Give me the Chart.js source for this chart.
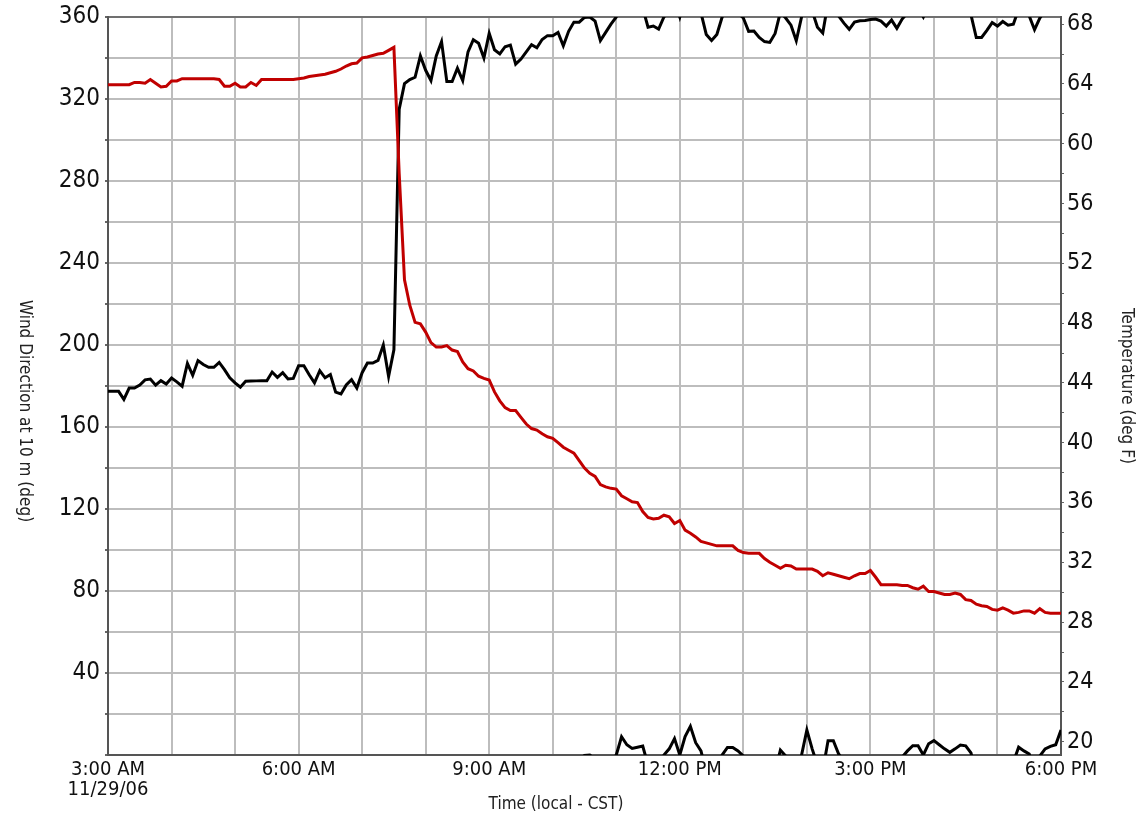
<!DOCTYPE html>
<html>
<head>
<meta charset="utf-8">
<title>Wind Direction and Temperature</title>
<script src="https://cdn.jsdelivr.net/npm/chart.js"></script>
<style>
  html, body { margin: 0; padding: 0; background: #fff; }
  #wrap { width: 1143px; height: 820px; }
</style>
</head>
<body>
<div id="wrap"><canvas id="chart" width="1143" height="820"></canvas></div>
<script>
// 5-minute observations, 3:00 AM to 6:00 PM CST, 11/29/06
const startHour = 3;
const stepMinutes = 5;

// wind direction at 10 m (deg), unwrapped past north (values > 360 wrap to the bottom)
const windDir = [
  177.4, 177.4, 177.4, 173.5, 179,
  179, 180.5, 183, 183.4, 180.4,
  182.6, 181, 183.9, 182, 179.9,
  191, 185.2, 192.4, 190.5, 189.1,
  189.1, 191.5, 188, 184, 181.5,
  179.4, 182.3, 182.4, 182.5, 182.6,
  182.6, 186.8, 184.2, 186.5, 183.4,
  183.7, 189.9, 189.9, 185.5, 181.5,
  187.5, 184, 185.6, 177, 176.1,
  180.5, 183.1, 179, 186.5, 191.2,
  191.2, 192.5, 200, 184.7, 197.7,
  315, 327.5, 329.5, 330.6, 341,
  334, 329, 341, 348, 328.5,
  328.5, 335, 329, 343, 348.9,
  347.2, 340, 352, 344, 342,
  345.5, 346.3, 337, 339.5, 343,
  346.5, 345, 349, 350.9, 350.9,
  352.5, 346, 353, 357.5, 357.5,
  359.8, 360, 358, 348.5, 352.5,
  356.5, 360, 368.9, 365, 363.2,
  363.8, 364.4, 355, 355.6, 354.1,
  360, 363, 368, 360, 369,
  374, 366, 362, 351.5, 348.5,
  351.5, 360, 363.7, 363.7, 362,
  359.5, 353, 353.2, 350, 348,
  347.6, 352, 362.4, 359.5, 356,
  348.4, 360, 372.2, 363, 355,
  352.2, 367, 367, 360.5, 357,
  354, 357.5, 358.2, 358.3, 358.8,
  359, 358, 355.6, 358.5, 354.5,
  359, 362, 364.5, 364.5, 360,
  365.5, 367, 365, 363, 361.3,
  363, 364.9, 364.5, 361, 350,
  350, 353.5, 357.3, 355.6, 357.8,
  356, 356.5, 363.8, 362, 360.5,
  353.8, 359.5, 363, 364.2, 365,
  372.2
];

// temperature (deg F)
const tempF = [
  63.95, 63.95, 63.95, 63.95, 63.95,
  64.1, 64.1, 64.05, 64.3, 64.05,
  63.8, 63.85, 64.2, 64.2, 64.35,
  64.35, 64.35, 64.35, 64.35, 64.35,
  64.35, 64.3, 63.85, 63.85, 64.05,
  63.8, 63.8, 64.1, 63.9, 64.3,
  64.3, 64.3, 64.3, 64.3, 64.3,
  64.3, 64.35, 64.4, 64.5, 64.55,
  64.6, 64.65, 64.75, 64.85, 65.0,
  65.2, 65.35, 65.4, 65.75, 65.8,
  65.9, 66.0, 66.05, 66.25, 66.45,
  58.0, 50.9, 49.2, 48.05, 47.95,
  47.4, 46.7, 46.4, 46.4, 46.5,
  46.2, 46.1, 45.4, 44.95, 44.8,
  44.45, 44.3, 44.2, 43.4, 42.8,
  42.35, 42.15, 42.15, 41.7, 41.25,
  40.95, 40.85, 40.6, 40.4, 40.3,
  40.0, 39.7, 39.5, 39.3, 38.8,
  38.3, 37.95, 37.75, 37.2, 37.05,
  36.95, 36.9, 36.45, 36.25, 36.05,
  36.0, 35.4, 35.0, 34.9, 34.95,
  35.15, 35.05, 34.6, 34.8, 34.15,
  33.95, 33.7, 33.4, 33.3, 33.2,
  33.1, 33.1, 33.1, 33.1, 32.8,
  32.65, 32.6, 32.6, 32.6, 32.25,
  32.0, 31.8, 31.6, 31.8, 31.75,
  31.55, 31.55, 31.55, 31.55, 31.4,
  31.1, 31.3, 31.2, 31.1, 31.0,
  30.9, 31.1, 31.25, 31.25, 31.45,
  31.0, 30.5, 30.5, 30.5, 30.5,
  30.45, 30.45, 30.3, 30.2, 30.4,
  30.05, 30.05, 29.95, 29.85, 29.85,
  29.95, 29.85, 29.5, 29.45, 29.2,
  29.1, 29.05, 28.85, 28.8, 28.95,
  28.8, 28.6, 28.65, 28.75, 28.75,
  28.6, 28.9, 28.65, 28.6, 28.6,
  28.6
];

// axis ranges / ticks
const timeMin = 3, timeMax = 18;
const windTicks = [0, 20, 40, 60, 80, 100, 120, 140, 160, 180, 200, 220, 240, 260, 280, 300, 320, 340, 360];
const tempTicks = [20, 22, 24, 26, 28, 30, 32, 34, 36, 38, 40, 42, 44, 46, 48, 50, 52, 54, 56, 58, 60, 62, 64, 66, 68];
const tempMin = 19.11, tempMax = 68.48;
const dateLabel = '11/29/06';

const FONT = '"DejaVu Sans Condensed", "DejaVu Sans", sans-serif';

function toXY(arr, shift) {
  return arr.map((v, i) => ({ x: startHour + i * stepMinutes / 60, y: v - shift }));
}

function hourLabel(h) {
  const hh = h % 12 === 0 ? 12 : h % 12;
  return hh + ':00 ' + (h < 12 ? 'AM' : 'PM');
}

// axis titles drawn by hand: left one reads top to bottom, bottom one sits left of centre
const axisTitles = {
  id: 'axisTitles',
  afterDraw(chart) {
    const ctx = chart.ctx;
    ctx.save();
    ctx.font = '17px ' + FONT;
    ctx.fillStyle = '#222';
    ctx.textAlign = 'center';
    ctx.textBaseline = 'middle';
    ctx.fillText('Time (local - CST)', 556, 805);
    ctx.translate(24, 411);
    ctx.rotate(Math.PI / 2);
    ctx.fillText('Wind Direction at 10 m (deg)', 0, 0);
    ctx.restore();
  }
};

const ctx = document.getElementById('chart').getContext('2d');
new Chart(ctx, {
  type: 'line',
  data: {
    datasets: [
      {
        label: 'Wind Direction',
        data: toXY(windDir, 0),
        yAxisID: 'y',
        borderColor: '#000',
        borderWidth: 3,
        pointRadius: 0,
        tension: 0,
        clip: 0,
        order: 2
      },
      {
        label: 'Wind Direction (past north)',
        data: toXY(windDir, 360),
        yAxisID: 'y',
        borderColor: '#000',
        borderWidth: 3,
        pointRadius: 0,
        tension: 0,
        clip: 0,
        order: 2
      },
      {
        label: 'Temperature',
        data: toXY(tempF, 0),
        yAxisID: 'y1',
        borderColor: '#c00000',
        borderWidth: 3,
        pointRadius: 0,
        tension: 0,
        clip: 0,
        order: 1
      }
    ]
  },
  options: {
    responsive: false,
    devicePixelRatio: 1,
    animation: false,
    layout: { padding: { top: 12, left: 0, right: 0, bottom: 0 } },
    plugins: {
      legend: { display: false },
      tooltip: { enabled: false }
    },
    scales: {
      x: {
        type: 'linear',
        min: timeMin,
        max: timeMax,
        ticks: {
          stepSize: 1,
          autoSkip: false,
          maxRotation: 0,
          padding: 5,
          color: '#111',
          font: { family: FONT, size: 20, lineHeight: 1 },
          callback: function (v) {
            if ((v - timeMin) % 3 !== 0) return '';
            if (v === timeMin) return [hourLabel(v), dateLabel];
            return hourLabel(v);
          }
        },
        grid: { color: '#bdbdbd', lineWidth: 2, drawTicks: false },
        border: { color: '#555', width: 2 },
        afterFit: function (scale) { scale.height = 65; }
      },
      y: {
        position: 'left',
        min: 0,
        max: 360,
        afterBuildTicks: function (scale) {
          scale.ticks = windTicks.map(v => ({ value: v }));
        },
        ticks: {
          padding: 5,
          color: '#111',
          font: { family: FONT, size: 24, lineHeight: 1 },
          callback: function (v) { return (v > 0 && v % 40 === 0) ? v : ''; }
        },
        grid: {
          color: c => (c.tick && c.tick.value === 360) ? '#707070' : '#bdbdbd',
          lineWidth: 2,
          tickLength: 3,
          tickColor: '#666'
        },
        border: { color: '#555', width: 2 },
        afterFit: function (scale) { scale.width = 108; }
      },
      y1: {
        position: 'right',
        min: tempMin,
        max: tempMax,
        afterBuildTicks: function (scale) {
          scale.ticks = tempTicks.map(v => ({ value: v }));
        },
        ticks: {
          padding: 3,
          color: '#111',
          font: { family: FONT, size: 23, lineHeight: 1 },
          callback: function (v) { return v % 4 === 0 ? v : ''; }
        },
        grid: { drawOnChartArea: false, tickLength: 3, tickColor: '#666' },
        border: { color: '#555', width: 2 },
        title: {
          display: true,
          text: 'Temperature (deg F)',
          color: '#222',
          font: { family: FONT, size: 17 },
          padding: { top: 6, bottom: 0 }
        },
        afterFit: function (scale) { scale.width = 82; }
      }
    }
  },
  plugins: [axisTitles]
});
</script>
</body>
</html>
